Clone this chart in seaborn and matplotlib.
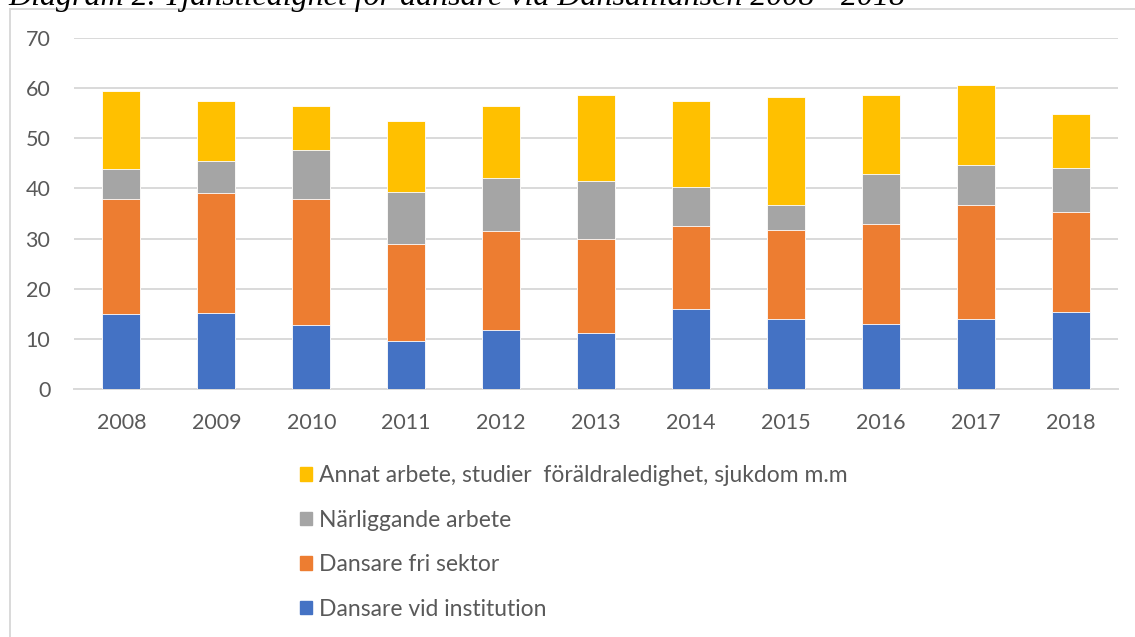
import matplotlib.pyplot as plt
import matplotlib.patches as mpatches
import numpy as np
import pandas as pd
import seaborn as sns

years = ["2008", "2009", "2010", "2011", "2012", "2013", "2014", "2015", "2016", "2017", "2018"]
institution = [14.9, 15.1, 12.7, 9.6, 11.8, 11.1, 15.9, 14.0, 12.9, 14.0, 15.3]
fri_sektor = [23.0, 23.9, 25.2, 19.4, 19.7, 18.8, 16.7, 17.8, 20.1, 22.6, 20.0]
narliggande = [5.9, 6.4, 9.8, 10.2, 10.5, 11.6, 7.7, 4.9, 9.9, 8.1, 8.7]
annat = [15.6, 12.0, 8.8, 14.3, 14.5, 17.1, 17.2, 21.6, 15.7, 16.0, 10.8]

labels = ["Dansare vid institution", "Dansare fri sektor", "Närliggande arbete",
          "Annat arbete, studier  föräldraledighet, sjukdom m.m"]
colors = ["#4472C4", "#ED7D31", "#A5A5A5", "#FFC000"]
title = "Diagram 2. Tjänstledighet för dansare vid Dansalliansen 2008 - 2018"

sns.set_theme(style="white")
plt.rcParams['font.family'] = ['Lato', 'DejaVu Sans']
text_color = '#595959'
grid_color = '#D9D9D9'

df = pd.DataFrame({"year": years})
series = [institution, fri_sektor, narliggande, annat]
cum = np.cumsum(np.array(series), axis=0)
for i, name in enumerate(labels):
    df[name] = cum[i]

fig = plt.figure(figsize=(11.35, 6.37), dpi=100)
ax = fig.add_axes([74 / 1135, 1 - 389 / 637, (1118 - 74) / 1135, (389 - 38) / 637])

# draw tallest stack first so the lower segments sit on top
for name, color in reversed(list(zip(labels, colors))):
    sns.barplot(data=df, x="year", y=name, color=color, width=0.4,
                edgecolor='white', linewidth=0.6, saturation=1, ax=ax, zorder=3)

ax.set_ylim(0, 70)
ax.set_xlim(-0.5, 10.5)
ax.set_yticks(range(0, 71, 10))
ax.set_xlabel("")
ax.set_ylabel("")
ax.grid(axis='y', color=grid_color, linewidth=1.4, zorder=0)
ax.set_axisbelow(True)
for side in ['top', 'right', 'left']:
    ax.spines[side].set_visible(False)
ax.spines['bottom'].set_color(grid_color)
ax.spines['bottom'].set_linewidth(1.4)
ax.tick_params(axis='y', length=0, pad=17, labelsize=15.5, labelcolor=text_color)
ax.tick_params(axis='x', length=0, pad=17, labelsize=15.5, labelcolor=text_color)

handles = [mpatches.Patch(color=c, label=l) for l, c in zip(labels, colors)][::-1]
fig.legend(handles=handles, loc='upper left', bbox_to_anchor=(300 / 1135, 1 - 465 / 637),
           frameon=False, fontsize=16.5, labelcolor=text_color, handlelength=0.52,
           handleheight=0.52, handletextpad=0.3, labelspacing=1.03, borderpad=0,
           borderaxespad=0)

# chart area border (runs off the right and bottom edges)
fig.patches.append(mpatches.Rectangle((10 / 1135, -0.1), 1.2, 1 - 9 / 637 + 0.1,
                                      transform=fig.transFigure, fill=False,
                                      edgecolor=grid_color, linewidth=1.4))

fig.text(8 / 1135, 1 - 5 / 637, title, family='Liberation Serif', style='italic',
         fontsize=23, color='black', va='baseline', ha='left')

plt.savefig('out.png', dpi=100)
